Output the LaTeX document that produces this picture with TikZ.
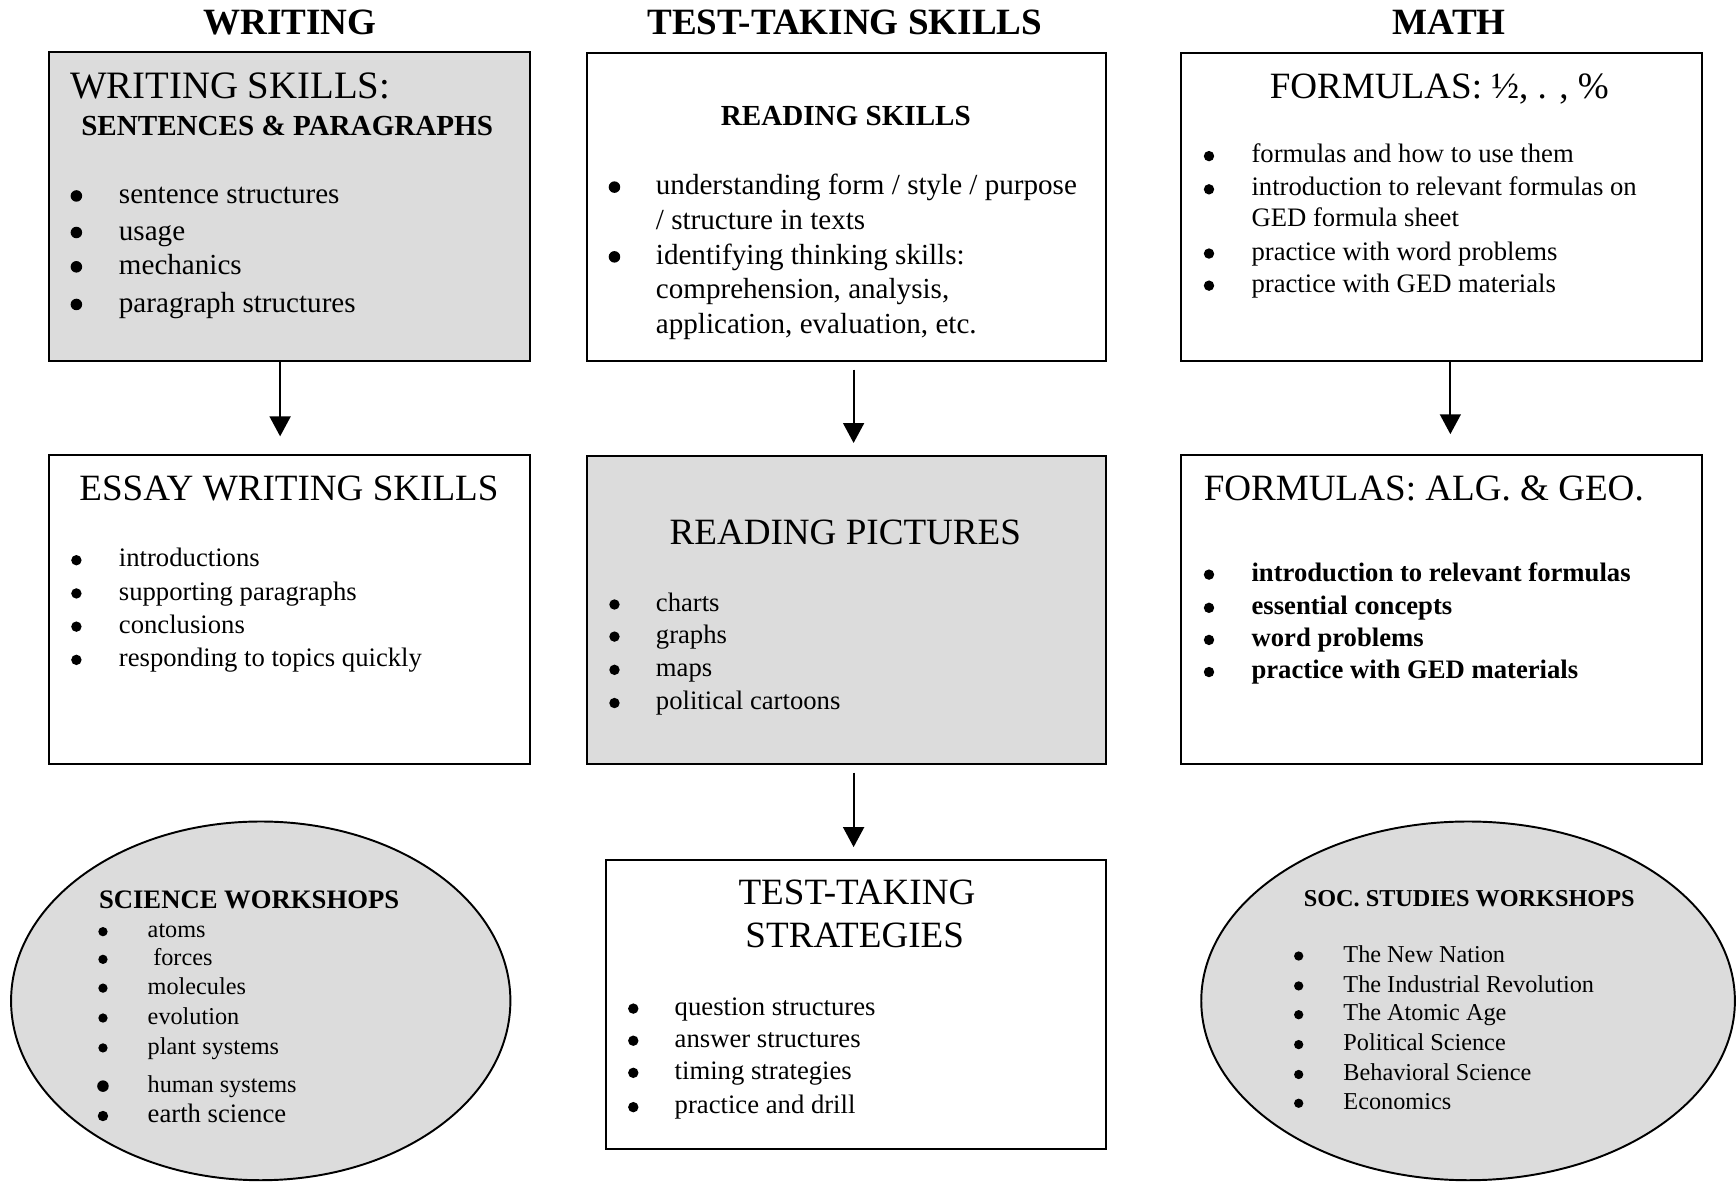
\documentclass[tikz,border=0pt]{standalone}
\usepackage{fontspec}
\setmainfont{Liberation Serif}
\usetikzlibrary{arrows.meta,fit,shapes.geometric}
\definecolor{boxgray}{HTML}{DCDCDC}
\newcommand\U{0.4566pt}
% bullet markers: #1 = x, #2 = baseline y, #3 = radius, #4 = lift
\newcommand\mydot[4]{\fill ({#1},{#2-#4}) circle ({#3});}
\tikzset{
  box/.style={draw, line width=0.8pt, inner sep=0pt},
  grayfill/.style={fill=boxgray},
  oval/.style={ellipse, draw, line width=0.8pt, fill=boxgray, inner sep=0pt},
  coltitle/.style={font=\fontsize{15.3}{18}\selectfont\bfseries, anchor=base, inner sep=0pt},
  head/.style={font=\fontsize{15.3}{18}\selectfont, anchor=base, inner sep=0pt},
  bhead/.style={font=\fontsize{12}{14}\selectfont\bfseries, anchor=base, inner sep=0pt},
  t12/.style={font=\fontsize{12}{14}\selectfont, anchor=base west, inner sep=0pt},
  t11/.style={font=\fontsize{11}{13}\selectfont, anchor=base west, inner sep=0pt},
  t11b/.style={font=\fontsize{11}{13}\selectfont\bfseries, anchor=base west, inner sep=0pt},
  t10/.style={font=\fontsize{10}{12}\selectfont, anchor=base west, inner sep=0pt},
  arr/.style={line width=0.8pt, -{Triangle[length=8.2pt, width=8.6pt]}},
}
\begin{document}
\begin{tikzpicture}[x=0.4566pt, y=-0.4566pt]
\useasboundingbox (0,0) rectangle (1568,1068);

% column titles
\node[coltitle] (tw) at (262,31) {WRITING};
\node[coltitle] (tt) at (763,31) {TEST-TAKING SKILLS};
\node[coltitle] (tm) at (1309,31) {MATH};

% boxes
\node[box, grayfill, fit={(44,47) (479,326)}] (b1) {};
\node[box, fit={(44,411) (479,690)}] (b2) {};
\node[box, fit={(530,48) (999,326)}] (b3) {};
\node[box, grayfill, fit={(530,412) (999,690)}] (b4) {};
\node[box, fit={(547,777) (999,1038)}] (b5) {};
\node[box, fit={(1067,48) (1537,326)}] (b6) {};
\node[box, fit={(1067,411) (1537,690)}] (b7) {};

% ellipses
\node[oval, minimum width=451*\U, minimum height=324*\U] (e1) at (235.5,904) {};
\node[oval, minimum width=482*\U, minimum height=324*\U] (e2) at (1326,904) {};

% arrows
\coordinate (ax1) at (253,0);
\coordinate (ax2) at (771,0);
\coordinate (ax4) at (1310,0);
\draw[arr, shorten >=16*\U] (b1.south -| ax1) -- (b2.north -| ax1);
\draw[arr, shorten <=7*\U, shorten >=11*\U] (b3.south -| ax2) -- (b4.north -| ax2);
\draw[arr, shorten <=7*\U, shorten >=11*\U] (b4.south -| ax2) -- (b5.north -| ax2);
\draw[arr, shorten >=18*\U] (b6.south -| ax4) -- (b7.north -| ax4);

% box 1
\node[font=\fontsize{16}{19}\selectfont, anchor=base west, inner sep=0pt] (b1h) at (63,89) {WRITING SKILLS:};
\node[font=\fontsize{12}{14}\selectfont\bfseries, anchor=base west, inner sep=0pt] (b1s) at (73,122) {SENTENCES \& PARAGRAPHS};
\foreach \y/\t [count=\i] in {184/sentence structures, 217/usage, 248/mechanics, 282/paragraph structures}{
  \mydot{69}{\y}{5.2}{7}
  \node[t12] (b1i\i) at (107,\y) {\t};
}

% box 2
\node[head] (b2h) at (261,452) {ESSAY WRITING SKILLS};
\foreach \y/\t [count=\i] in {512/introductions, 542/supporting paragraphs, 572/conclusions, 602/responding to topics quickly}{
  \mydot{69}{\y}{4.7}{6}
  \node[t11] (b2i\i) at (107,\y) {\t};
}

% box 3
\node[bhead] (b3h) at (764,113) {READING SKILLS};
\mydot{555}{176}{5.2}{7}
\mydot{555}{239}{5.2}{7}
\node[t12] (b3i1) at (592,176) {understanding form / style / purpose};
\node[t12] (b3i2) at (592,207) {/ structure in texts};
\node[t12] (b3i3) at (592,239) {identifying thinking skills:};
\node[t12] (b3i4) at (592,270) {comprehension, analysis,};
\node[t12] (b3i5) at (592,301) {application, evaluation, etc.};

% box 4
\node[head] (b4h) at (763.5,492) {READING PICTURES};
\foreach \y/\t [count=\i] in {552/charts, 581/graphs, 611/maps, 641/political cartoons}{
  \mydot{555}{\y}{4.7}{6}
  \node[t11] (b4i\i) at (592,\y) {\t};
}

% box 5
\node[head] (b5h1) at (774,817) {TEST-TAKING};
\node[head] (b5h2) at (772,856) {STRATEGIES};
\foreach \y/\t [count=\i] in {917/question structures, 946/answer structures, 975/timing strategies, 1006/practice and drill}{
  \mydot{572}{\y}{4.7}{6}
  \node[t11] (b5i\i) at (609,\y) {\t};
}

% box 6
\node[head] (b6h) at (1300,89) {FORMULAS: ½, . , \%};
\foreach \y in {147,177,235,264}{ \mydot{1092}{\y}{4.7}{6} }
\node[t11] (b6i1) at (1130,147) {formulas and how to use them};
\node[t11] (b6i2) at (1130,177) {introduction to relevant formulas on};
\node[t11] (b6i3) at (1130,205) {GED formula sheet};
\node[t11] (b6i4) at (1130,235) {practice with word problems};
\node[t11] (b6i5) at (1130,264) {practice with GED materials};

% box 7
\node[head] (b7h) at (1286,452) {FORMULAS: ALG. \& GEO.};
\foreach \y/\t [count=\i] in {525/introduction to relevant formulas, 555/essential concepts, 584/word problems, 613/practice with GED materials}{
  \mydot{1092}{\y}{4.7}{6}
  \node[t11b] (b7i\i) at (1130,\y) {\t};
}

% science ellipse
\node[t11b] (e1h) at (89,821) {SCIENCE WORKSHOPS};
\foreach \y/\t [count=\i] in {847/atoms, 898/molecules, 925/evolution, 952/plant systems}{
  \mydot{93}{\y}{4.2}{5.5}
  \node[t10] (e1i\i) at (133,\y) {\t};
}
\mydot{93}{872}{4.2}{5.5}
\node[t10] (e1i5) at (138,872) {forces};
\mydot{93}{987}{5.2}{6}
\node[t10] (e1i6) at (133,987) {human systems};
\mydot{93}{1014}{4.7}{6}
\node[t11] (e1i7) at (133,1014) {earth science};

% soc studies ellipse
\node[font=\fontsize{10}{12}\selectfont\bfseries, anchor=base, inner sep=0pt] (e2h) at (1327,819) {SOC. STUDIES WORKSHOPS};
\foreach \y/\t [count=\i] in {869/The New Nation, 896/The Industrial Revolution, 922/The Atomic Age, 949/Political Science, 976/Behavioral Science, 1002/Economics}{
  \mydot{1173}{\y}{4.2}{5.5}
  \node[t10] (e2i\i) at (1213,\y) {\t};
}
\end{tikzpicture}
\end{document}
